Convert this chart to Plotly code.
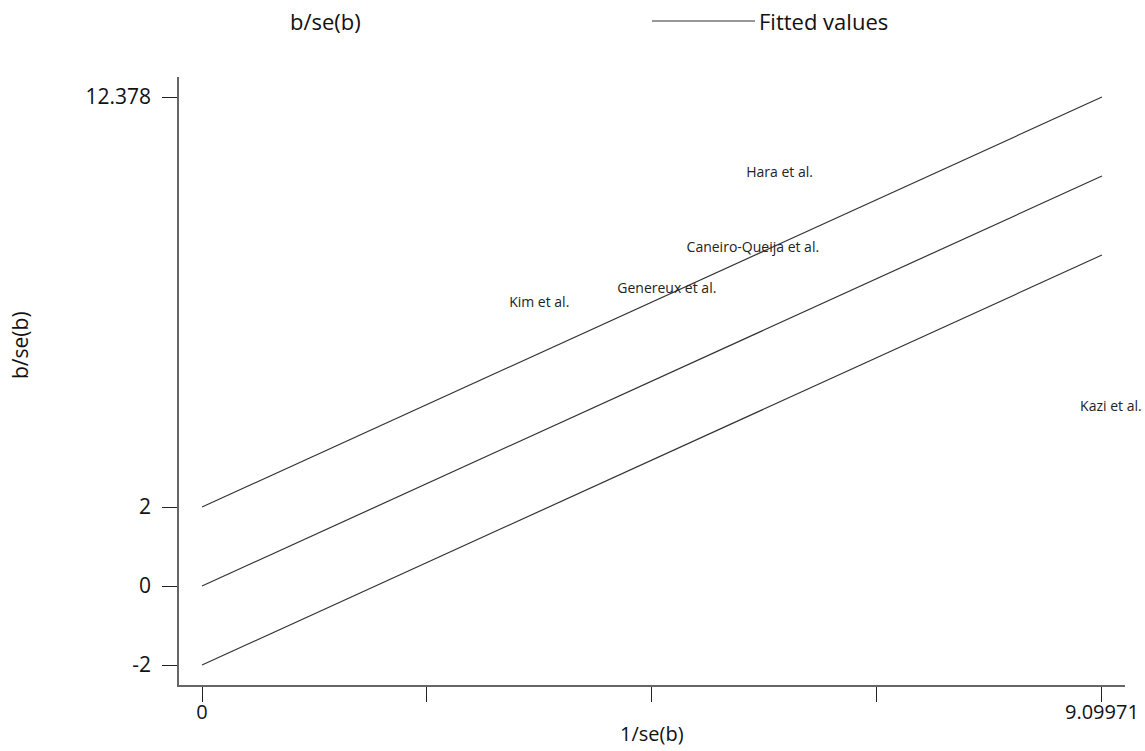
import plotly.graph_objects as go

# Study labels and their (1/se, b/se) positions
studies = ["Hara et al.", "Caneiro-Queija et al.", "Genereux et al.", "Kim et al.", "Kazi et al."]
inv_se = [5.84, 5.57, 4.70, 3.41, 9.19]
z_vals = [10.45, 8.55, 7.50, 7.14, 4.52]

# Fitted line (through origin) and +/-2 bands
x_fit = [0.0, 9.09971]
slope = 1.1405
bands = [2, 0, -2]

x_tickvals = [0, 2.2749, 4.5499, 6.8248, 9.09971]
x_ticktext = ["0", "", "", "", "9.09971"]
y_tickvals = [-2, 0, 2, 12.378]
y_ticktext = ["-2", "0", "2", "12.378"]

FONT = "Open Sans"
LINE_COL = "#333333"
AXIS_COL = "#666666"
TXT = "#111111"

L, R, T, B = 179, 1125, 77, 685
W, H = 1145, 751

fig = go.Figure()
for off in bands:
    fig.add_trace(go.Scatter(
        x=x_fit, y=[slope * x + off for x in x_fit], mode="lines",
        line=dict(color=LINE_COL, width=1.2), showlegend=False, hoverinfo="skip"))

fig.add_trace(go.Scatter(
    x=inv_se, y=z_vals, mode="text", text=studies, textposition="middle center",
    textfont=dict(family=FONT, size=14, color="#222222"), showlegend=False,
    cliponaxis=False))

fig.update_xaxes(range=[-0.2326, 9.333], tickvals=x_tickvals, ticktext=x_ticktext,
                 ticks="outside", ticklen=15, tickcolor="#222222", tickwidth=1.2,
                 showline=True, linecolor=AXIS_COL, linewidth=1.5, showgrid=False,
                 zeroline=False, tickfont=dict(family=FONT, size=20, color=TXT),
                 automargin=False, ticklabelstandoff=-7)
fig.update_yaxes(range=[-2.506, 12.886], tickvals=y_tickvals, ticktext=y_ticktext,
                 ticks="outside", ticklen=15, tickcolor="#222222", tickwidth=1.2,
                 showline=True, linecolor=AXIS_COL, linewidth=1.5, showgrid=False,
                 zeroline=False, tickfont=dict(family=FONT, size=21, color=TXT),
                 automargin=False, ticklabelstandoff=7)

def px(x):
    return (x - L) / (R - L)

def py(y):
    return (B - y) / (B - T)

# Axis titles
fig.add_annotation(xref="paper", yref="paper", x=px(652), y=py(733), text="1/se(b)",
                   showarrow=False, xanchor="center", yanchor="middle",
                   font=dict(family=FONT, size=20, color=TXT))
fig.add_annotation(xref="paper", yref="paper", x=px(20), y=py(345), text="b/se(b)",
                   showarrow=False, xanchor="center", yanchor="middle", textangle=-90,
                   font=dict(family=FONT, size=21, color=TXT))

# Manual legend
fig.add_annotation(xref="paper", yref="paper", x=px(325), y=py(21),
                   text="b/se(b)", showarrow=False, xanchor="center", yanchor="middle",
                   font=dict(family=FONT, size=22, color=TXT))
fig.add_shape(type="line", xref="paper", yref="paper",
              x0=px(652), x1=px(755), y0=py(21), y1=py(21),
              line=dict(color=LINE_COL, width=1.2))
fig.add_annotation(xref="paper", yref="paper", x=px(757), y=py(21),
                   text="Fitted values", showarrow=False, xanchor="left", yanchor="middle",
                   font=dict(family=FONT, size=22, color=TXT))

fig.update_layout(width=W, height=H, margin=dict(l=L, r=W - R, t=T, b=H - B),
                  plot_bgcolor="white", paper_bgcolor="white", showlegend=False)

fig.write_html("out.html")
